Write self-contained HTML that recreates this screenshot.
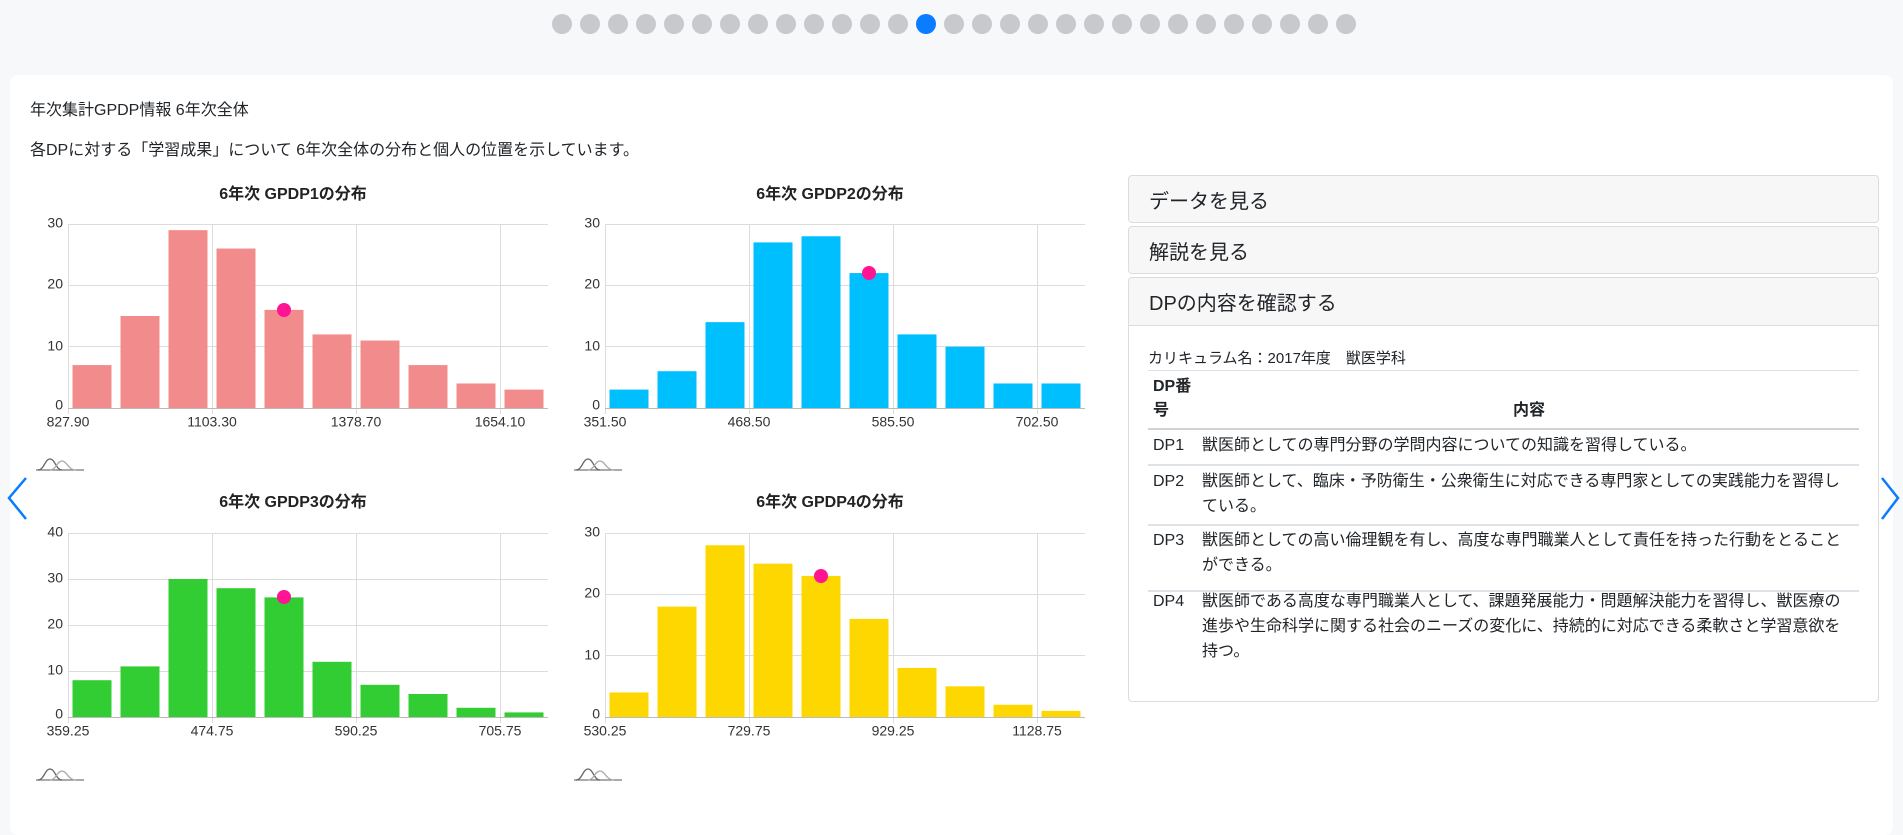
<!DOCTYPE html>
<html><head><meta charset="utf-8">
<style>
*{box-sizing:border-box;margin:0;padding:0}
body{width:1903px;height:823px;background:#f7f8fa;font-family:"Liberation Sans","Noto Sans CJK JP",sans-serif;color:#212529;position:relative;overflow:hidden}
.dot{position:absolute;top:14px;width:20px;height:20px;border-radius:50%;background:#c8c9cc}
.card{position:absolute;left:10px;top:75px;width:1883px;height:760px;background:#fff;border-radius:8px}
.t{position:absolute;font-size:16px;white-space:nowrap}
.acc{position:absolute;left:1128px;width:751px;border:1px solid #dcdcdf;border-radius:4px;background:#f7f7f8;font-size:20px;padding-left:20px;display:flex;align-items:center}
.body{position:absolute;left:1128px;top:325px;width:751px;height:377px;border:1px solid #dcdcdf;border-top:1px solid #dcdcdf;background:#fff}
.line{position:absolute;left:1148px;width:711px;background:#dee2e6}
.cell{position:absolute;font-size:16px;line-height:25px;white-space:nowrap}
svg text{font-family:"Liberation Sans","Noto Sans CJK JP",sans-serif}
</style></head><body>
<div class="dot" style="left:552px"></div><div class="dot" style="left:580px"></div><div class="dot" style="left:608px"></div><div class="dot" style="left:636px"></div><div class="dot" style="left:664px"></div><div class="dot" style="left:692px"></div><div class="dot" style="left:720px"></div><div class="dot" style="left:748px"></div><div class="dot" style="left:776px"></div><div class="dot" style="left:804px"></div><div class="dot" style="left:832px"></div><div class="dot" style="left:860px"></div><div class="dot" style="left:888px"></div><div class="dot" style="left:916px;background:#0a7cff"></div><div class="dot" style="left:944px"></div><div class="dot" style="left:972px"></div><div class="dot" style="left:1000px"></div><div class="dot" style="left:1028px"></div><div class="dot" style="left:1056px"></div><div class="dot" style="left:1084px"></div><div class="dot" style="left:1112px"></div><div class="dot" style="left:1140px"></div><div class="dot" style="left:1168px"></div><div class="dot" style="left:1196px"></div><div class="dot" style="left:1224px"></div><div class="dot" style="left:1252px"></div><div class="dot" style="left:1280px"></div><div class="dot" style="left:1308px"></div><div class="dot" style="left:1336px"></div>
<div class="card"></div>
<div class="t" style="left:30px;top:96px">年次集計GPDP情報 6年次全体</div>
<div class="t" style="left:30px;top:136px">各DPに対する「学習成果」について 6年次全体の分布と個人の位置を示しています。</div>

<svg width="1903" height="823" style="position:absolute;left:0;top:0" xmlns="http://www.w3.org/2000/svg">
<g font-size="16" font-weight="bold" fill="#222" text-anchor="middle">
<text x="293" y="199">6年次 GPDP1の分布</text>
<text x="830" y="199">6年次 GPDP2の分布</text>
<text x="293" y="507">6年次 GPDP3の分布</text>
<text x="830" y="507">6年次 GPDP4の分布</text>
</g>
<g stroke="#dcdcdc" stroke-width="1">
<!-- chart1 grid -->
<line x1="68" y1="224.5" x2="548" y2="224.5"/><line x1="68" y1="285.5" x2="548" y2="285.5"/><line x1="68" y1="346.5" x2="548" y2="346.5"/>
<line x1="68.5" y1="224" x2="68.5" y2="414"/><line x1="212.5" y1="224" x2="212.5" y2="414"/><line x1="356.5" y1="224" x2="356.5" y2="414"/><line x1="500.5" y1="224" x2="500.5" y2="414"/>
<!-- chart2 grid -->
<line x1="605" y1="224.5" x2="1085" y2="224.5"/><line x1="605" y1="285.5" x2="1085" y2="285.5"/><line x1="605" y1="346.5" x2="1085" y2="346.5"/>
<line x1="605.5" y1="224" x2="605.5" y2="414"/><line x1="749.5" y1="224" x2="749.5" y2="414"/><line x1="893.5" y1="224" x2="893.5" y2="414"/><line x1="1037.5" y1="224" x2="1037.5" y2="414"/>
<!-- chart3 grid -->
<line x1="68" y1="533.5" x2="548" y2="533.5"/><line x1="68" y1="579.5" x2="548" y2="579.5"/><line x1="68" y1="625.5" x2="548" y2="625.5"/><line x1="68" y1="671.5" x2="548" y2="671.5"/>
<line x1="68.5" y1="533" x2="68.5" y2="723"/><line x1="212.5" y1="533" x2="212.5" y2="723"/><line x1="356.5" y1="533" x2="356.5" y2="723"/><line x1="500.5" y1="533" x2="500.5" y2="723"/>
<!-- chart4 grid -->
<line x1="605" y1="533.5" x2="1085" y2="533.5"/><line x1="605" y1="594.5" x2="1085" y2="594.5"/><line x1="605" y1="655.5" x2="1085" y2="655.5"/>
<line x1="605.5" y1="533" x2="605.5" y2="723"/><line x1="749.5" y1="533" x2="749.5" y2="723"/><line x1="893.5" y1="533" x2="893.5" y2="723"/><line x1="1037.5" y1="533" x2="1037.5" y2="723"/>
</g>
<!-- bars -->
<g transform="translate(68,408) scale(1,-6.133)" fill="#f28b8b">
<rect x="4.5" width="39" height="7"/><rect x="52.5" width="39" height="15"/><rect x="100.5" width="39" height="29"/><rect x="148.5" width="39" height="26"/><rect x="196.5" width="39" height="16"/><rect x="244.5" width="39" height="12"/><rect x="292.5" width="39" height="11"/><rect x="340.5" width="39" height="7"/><rect x="388.5" width="39" height="4"/><rect x="436.5" width="39" height="3"/>
</g>
<g transform="translate(605,408) scale(1,-6.133)" fill="#00bfff">
<rect x="4.5" width="39" height="3"/><rect x="52.5" width="39" height="6"/><rect x="100.5" width="39" height="14"/><rect x="148.5" width="39" height="27"/><rect x="196.5" width="39" height="28"/><rect x="244.5" width="39" height="22"/><rect x="292.5" width="39" height="12"/><rect x="340.5" width="39" height="10"/><rect x="388.5" width="39" height="4"/><rect x="436.5" width="39" height="4"/>
</g>
<g transform="translate(68,717) scale(1,-4.6)" fill="#32cd32">
<rect x="4.5" width="39" height="8"/><rect x="52.5" width="39" height="11"/><rect x="100.5" width="39" height="30"/><rect x="148.5" width="39" height="28"/><rect x="196.5" width="39" height="26"/><rect x="244.5" width="39" height="12"/><rect x="292.5" width="39" height="7"/><rect x="340.5" width="39" height="5"/><rect x="388.5" width="39" height="2"/><rect x="436.5" width="39" height="1"/>
</g>
<g transform="translate(605,717) scale(1,-6.133)" fill="#ffd700">
<rect x="4.5" width="39" height="4"/><rect x="52.5" width="39" height="18"/><rect x="100.5" width="39" height="28"/><rect x="148.5" width="39" height="25"/><rect x="196.5" width="39" height="23"/><rect x="244.5" width="39" height="16"/><rect x="292.5" width="39" height="8"/><rect x="340.5" width="39" height="5"/><rect x="388.5" width="39" height="2"/><rect x="436.5" width="39" height="1"/>
</g>
<!-- baselines -->
<g stroke="#bbb" stroke-width="1">
<line x1="68" y1="408.5" x2="548" y2="408.5"/><line x1="605" y1="408.5" x2="1085" y2="408.5"/>
<line x1="68" y1="717.5" x2="548" y2="717.5"/><line x1="605" y1="717.5" x2="1085" y2="717.5"/>
</g>
<!-- dots -->
<g fill="#ff1493">
<circle cx="284" cy="310" r="7"/><circle cx="869" cy="273" r="7"/><circle cx="284" cy="597" r="7"/><circle cx="821" cy="576" r="7"/>
</g>
<!-- y ticks -->
<g font-size="14" fill="#333" text-anchor="end" dominant-baseline="middle">
<text x="63" y="224">30</text><text x="63" y="285">20</text><text x="63" y="347">10</text><text x="63" y="406">0</text>
<text x="600" y="224">30</text><text x="600" y="285">20</text><text x="600" y="347">10</text><text x="600" y="406">0</text>
<text x="63" y="533">40</text><text x="63" y="579">30</text><text x="63" y="625">20</text><text x="63" y="671">10</text><text x="63" y="715">0</text>
<text x="600" y="533">30</text><text x="600" y="594">20</text><text x="600" y="656">10</text><text x="600" y="715">0</text>
</g>
<!-- x ticks -->
<g font-size="14" fill="#333" text-anchor="middle" dominant-baseline="middle">
<text x="68" y="423">827.90</text><text x="212" y="423">1103.30</text><text x="356" y="423">1378.70</text><text x="500" y="423">1654.10</text>
<text x="605" y="423">351.50</text><text x="749" y="423">468.50</text><text x="893" y="423">585.50</text><text x="1037" y="423">702.50</text>
<text x="68" y="732">359.25</text><text x="212" y="732">474.75</text><text x="356" y="732">590.25</text><text x="500" y="732">705.75</text>
<text x="605" y="732">530.25</text><text x="749" y="732">729.75</text><text x="893" y="732">929.25</text><text x="1037" y="732">1128.75</text>
</g>
<!-- icons -->
<g fill="none" stroke-width="1.3">
<g transform="translate(36,455)"><path d="M0 15 H48" stroke="#777"/><path d="M2 15 C8 15 9 4 14 4 C19 4 20 15 26 15" stroke="#666"/><path d="M14 15 C20 15 21 6 26 6 C31 6 32 15 40 15" stroke="#aaa"/></g>
<g transform="translate(574,455)"><path d="M0 15 H48" stroke="#777"/><path d="M2 15 C8 15 9 4 14 4 C19 4 20 15 26 15" stroke="#666"/><path d="M14 15 C20 15 21 6 26 6 C31 6 32 15 40 15" stroke="#aaa"/></g>
<g transform="translate(36,765)"><path d="M0 15 H48" stroke="#777"/><path d="M2 15 C8 15 9 4 14 4 C19 4 20 15 26 15" stroke="#666"/><path d="M14 15 C20 15 21 6 26 6 C31 6 32 15 40 15" stroke="#aaa"/></g>
<g transform="translate(574,765)"><path d="M0 15 H48" stroke="#777"/><path d="M2 15 C8 15 9 4 14 4 C19 4 20 15 26 15" stroke="#666"/><path d="M14 15 C20 15 21 6 26 6 C31 6 32 15 40 15" stroke="#aaa"/></g>
</g>
<!-- carousel arrows -->
<path d="M26 478 L9 498 L26 519" stroke="#0a7cff" stroke-width="2.5" fill="none"/>
<path d="M1882 478 L1898 498 L1882 519" stroke="#0a7cff" stroke-width="2.5" fill="none"/>
</svg>

<div class="acc" style="top:175px;height:48px">データを見る</div>
<div class="acc" style="top:226px;height:48px">解説を見る</div>
<div class="acc" style="top:277px;height:49px;border-radius:4px 4px 0 0">DPの内容を確認する</div>
<div class="body" style="border-radius:0 0 4px 4px"></div>
<div class="cell" style="left:1148px;top:346px;font-size:15px">カリキュラム名：2017年度　獣医学科</div>
<div class="line" style="top:370px;height:1px"></div>
<div class="cell" style="left:1153px;top:375px;font-weight:bold;line-height:24px">DP番<br>号</div>
<div class="cell" style="left:1513px;top:399px;font-weight:bold;line-height:24px">内容</div>
<div class="line" style="top:428px;height:2px;background:#cfd3d7"></div>
<div class="cell" style="left:1153px;top:433px">DP1</div>
<div class="cell" style="left:1202px;top:433px">獣医師としての専門分野の学問内容についての知識を習得している。</div>
<div class="line" style="top:464px;height:2px"></div>
<div class="cell" style="left:1153px;top:469px">DP2</div>
<div class="cell" style="left:1202px;top:469px">獣医師として、臨床・予防衛生・公衆衛生に対応できる専門家としての実践能力を習得し<br>ている。</div>
<div class="line" style="top:524px;height:2px"></div>
<div class="cell" style="left:1153px;top:528px">DP3</div>
<div class="cell" style="left:1202px;top:528px">獣医師としての高い倫理観を有し、高度な専門職業人として責任を持った行動をとること<br>ができる。</div>
<div class="line" style="top:590px;height:2px"></div>
<div class="cell" style="left:1153px;top:589px">DP4</div>
<div class="cell" style="left:1202px;top:589px">獣医師である高度な専門職業人として、課題発展能力・問題解決能力を習得し、獣医療の<br>進歩や生命科学に関する社会のニーズの変化に、持続的に対応できる柔軟さと学習意欲を<br>持つ。</div>
</body></html>
